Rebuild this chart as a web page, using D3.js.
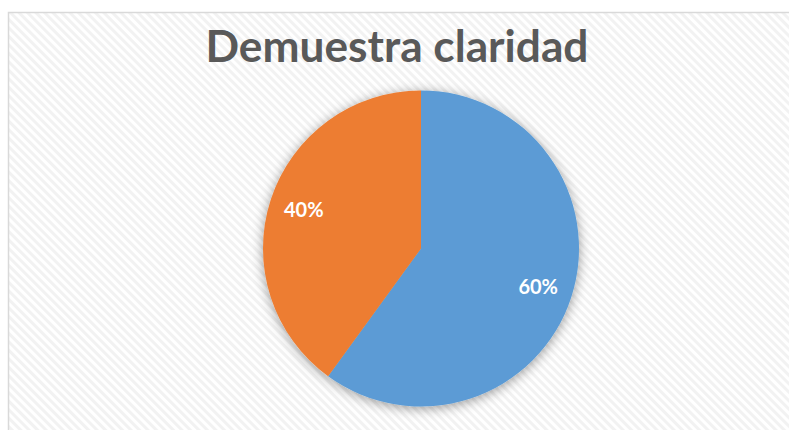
<html>
<head>
<meta charset="utf-8">
<title>Demuestra claridad</title>
<style>
    body{ margin:0; background:#fff; }
    .title{ font-family:Lato, "Open Sans", sans-serif; font-weight:bold; fill:#595959; }
    .lbl{ font-family:Lato, "Open Sans", sans-serif; font-weight:bold; fill:#fff; font-size:20px; }
</style>
</head>
<body>
<script src="https://cdn.jsdelivr.net/npm/d3@7"></script>
<script>
var width = 789, height = 430;

// data
var categories = ["A", "B"];
var values = [60, 40];
var colors = ["#5B9BD5", "#ED7D31"];
var labels = ["60%", "40%"];
var title = "Demuestra claridad";

var svg = d3.select("body").append("svg")
    .attr("width", width)
    .attr("height", height);

var defs = svg.append("defs");

// diagonal stripes (downward) in the chart background
var pat = defs.append("pattern")
    .attr("id", "stripes")
    .attr("patternUnits", "userSpaceOnUse")
    .attr("width", 6).attr("height", 6)
    .attr("patternTransform", "rotate(45)");
pat.append("rect").attr("width", 6).attr("height", 6).attr("fill", "#ffffff");
pat.append("rect").attr("width", 6).attr("height", 3).attr("fill", "#f2f2f2");

var f = defs.append("filter").attr("id", "shadow")
    .attr("x", "-20%").attr("y", "-20%").attr("width", "140%").attr("height", "140%");
f.append("feDropShadow")
    .attr("dx", 0).attr("dy", 2)
    .attr("stdDeviation", 6)
    .attr("flood-color", "#000")
    .attr("flood-opacity", 0.4);

// chart area (runs off the right and bottom)
svg.append("rect")
    .attr("x", 8.5).attr("y", 12.5)
    .attr("width", width + 20).attr("height", height + 20)
    .attr("fill", "url(#stripes)")
    .attr("stroke", "#d9d9d9")
    .attr("stroke-width", 1.5);

// title
var t = svg.append("text")
    .attr("class", "title")
    .attr("x", 397).attr("y", 62)
    .attr("text-anchor", "middle")
    .style("font-size", "41px")
    .text(title);
var tw = t.node().getComputedTextLength();
if (tw > 0) t.style("font-size", (41 * 383 / tw) + "px");

// pie
var cx = 421, cy = 248.5, r = 158;
var pie = d3.pie().sort(null).value(function(d){ return d; });
var arc = d3.arc().innerRadius(0).outerRadius(r);
var labelArc = d3.arc().innerRadius(r * 0.78).outerRadius(r * 0.78);

var g = svg.append("g").attr("transform", "translate(" + cx + "," + cy + ")");
var arcs = pie(values);

g.append("g").attr("filter", "url(#shadow)")
    .selectAll("path")
    .data(arcs)
    .enter().append("path")
    .attr("d", arc)
    .attr("fill", function(d, i){ return colors[i]; });

g.selectAll("text.lbl")
    .data(arcs)
    .enter().append("text")
    .attr("class", "lbl")
    .attr("text-anchor", "middle")
    .attr("dy", "0.35em")
    .attr("transform", function(d){ return "translate(" + labelArc.centroid(d) + ")"; })
    .text(function(d, i){ return labels[i]; });
</script>
</body>
</html>
